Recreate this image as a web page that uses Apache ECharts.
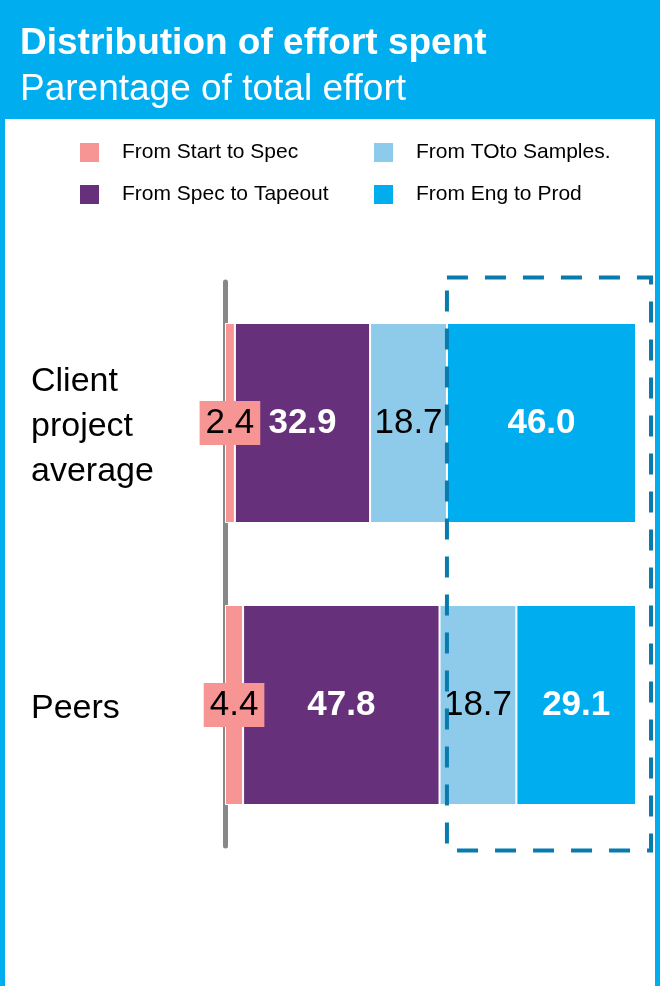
<!DOCTYPE html>
<html>
<head>
<meta charset="utf-8">
<title>Distribution of effort spent</title>
<script src="https://cdn.jsdelivr.net/npm/echarts@6/dist/echarts.min.js"></script>
<style>
  html, body { margin: 0; padding: 0; background: #00AEEF; }
  #chart { width: 660px; height: 986px; }
</style>
</head>
<body>
<div id="chart"></div>
<script>
// Categories (top to bottom) and the share of effort per phase, in percent
const categories = ['Client\nproject\naverage', 'Peers'];
const startToSpec = [2.4, 4.4];
const specToTapeout = [32.9, 47.8];
const toToSamples = [18.7, 18.7];
const engToProd = [46.0, 29.1];

const seriesNames = ['From Start to Spec', 'From Spec to Tapeout', 'From TOto Samples.', 'From Eng to Prod'];
const colors = ['#F79595', '#66307A', '#8ECAE9', '#00AEEF'];

const FONT = '"Liberation Sans", Arial, sans-serif';
const fmt = p => Number(p.value).toFixed(1);

function labelStyle(color, bold, extra) {
  return Object.assign({
    show: true,
    position: 'inside',
    formatter: fmt,
    color: color,
    fontFamily: FONT,
    fontSize: 35,
    fontWeight: bold ? 'bold' : 'normal'
  }, extra || {});
}

function barSeries(name, data, color, label) {
  return {
    name: name,
    type: 'bar',
    stack: 'effort',
    data: data,
    barWidth: 200,
    itemStyle: { color: color, borderColor: '#ffffff', borderWidth: 1 },
    label: label,
    emphasis: { disabled: true }
  };
}

const chart = echarts.init(document.getElementById('chart'), null, { renderer: 'canvas' });

const legendBase = {
  orient: 'vertical',
  top: 141,
  padding: 0,
  itemWidth: 21, itemHeight: 21, itemGap: 19,
  icon: 'rect',
  textStyle: { color: '#000', fontFamily: FONT, fontSize: 21, padding: [0, 0, 0, 17] },
  selectedMode: false
};

// Category names: a thin spacer line on top nudges each block slightly down
const catLabel = v => '{s|}\n' + v.split('\n').map(l => '{t|' + l + '}').join('\n');

chart.setOption({
  backgroundColor: '#00AEEF',
  animation: false,
  title: [
    {
      text: 'Distribution of effort spent',
      left: 20, top: 24, padding: 0,
      textStyle: { color: '#fff', fontFamily: FONT, fontSize: 37, fontWeight: 'bold', lineHeight: 40 }
    },
    {
      text: 'Parentage of total effort',
      left: 20, top: 70, padding: 0,
      textStyle: { color: '#fff', fontFamily: FONT, fontSize: 37, fontWeight: 'normal', lineHeight: 40 }
    }
  ],
  legend: [
    Object.assign({ data: [seriesNames[0], seriesNames[1]], left: 78 }, legendBase),
    Object.assign({ data: [seriesNames[2], seriesNames[3]], left: 372 }, legendBase)
  ],
  grid: { left: 225, right: 24, top: 282, bottom: 140 },
  xAxis: {
    type: 'value',
    min: 0, max: 100,
    show: false
  },
  yAxis: {
    type: 'category',
    data: categories,
    inverse: true,
    offset: 3,
    axisLine: { show: true, lineStyle: { color: '#888888', width: 5 } },
    axisTick: { show: false },
    splitLine: { show: false },
    axisLabel: {
      align: 'left',
      margin: 191,
      color: '#000',
      fontFamily: FONT,
      fontSize: 34,
      formatter: catLabel,
      rich: {
        s: { fontSize: 8, lineHeight: 8 },
        t: { fontFamily: FONT, fontSize: 34, lineHeight: 45, color: '#000' }
      }
    }
  },
  graphic: [
    {
      id: 'panel',
      type: 'rect',
      z: -10,
      silent: true,
      shape: { x: 5, y: 119, width: 650, height: 880 },
      style: { fill: '#ffffff' }
    }
  ],
  series: [
    barSeries(seriesNames[0], startToSpec, colors[0],
      labelStyle('#000', false, { backgroundColor: colors[0], padding: [1, 6], lineHeight: 42 })),
    barSeries(seriesNames[1], specToTapeout, colors[1], labelStyle('#fff', true)),
    barSeries(seriesNames[2], toToSamples, colors[2], labelStyle('#000', false)),
    barSeries(seriesNames[3], engToProd, colors[3], labelStyle('#fff', true))
  ]
});

// Dashed frame around the final phase, starting where the top bar's last segment begins
const engStart = startToSpec[0] + specToTapeout[0] + toToSamples[0];
const x0 = chart.convertToPixel({ gridIndex: 0 }, [engStart, categories[0]])[0];
const x1 = chart.convertToPixel({ gridIndex: 0 }, [100, categories[0]])[0] + 15;
const c0 = chart.convertToPixel({ gridIndex: 0 }, [0, categories[0]])[1];
const c1 = chart.convertToPixel({ gridIndex: 0 }, [0, categories[1]])[1];
const band = c1 - c0;
const y0 = c0 - band / 2 - 4.5;
const y1 = c1 + band / 2 + 4.5;

chart.setOption({
  graphic: [
    {
      id: 'highlight',
      type: 'rect',
      z: 100,
      silent: true,
      shape: { x: x0, y: y0, width: x1 - x0, height: y1 - y0 },
      style: { fill: null, stroke: '#087BAE', lineWidth: 4, lineDash: [21, 17] }
    }
  ]
});
</script>
</body>
</html>
